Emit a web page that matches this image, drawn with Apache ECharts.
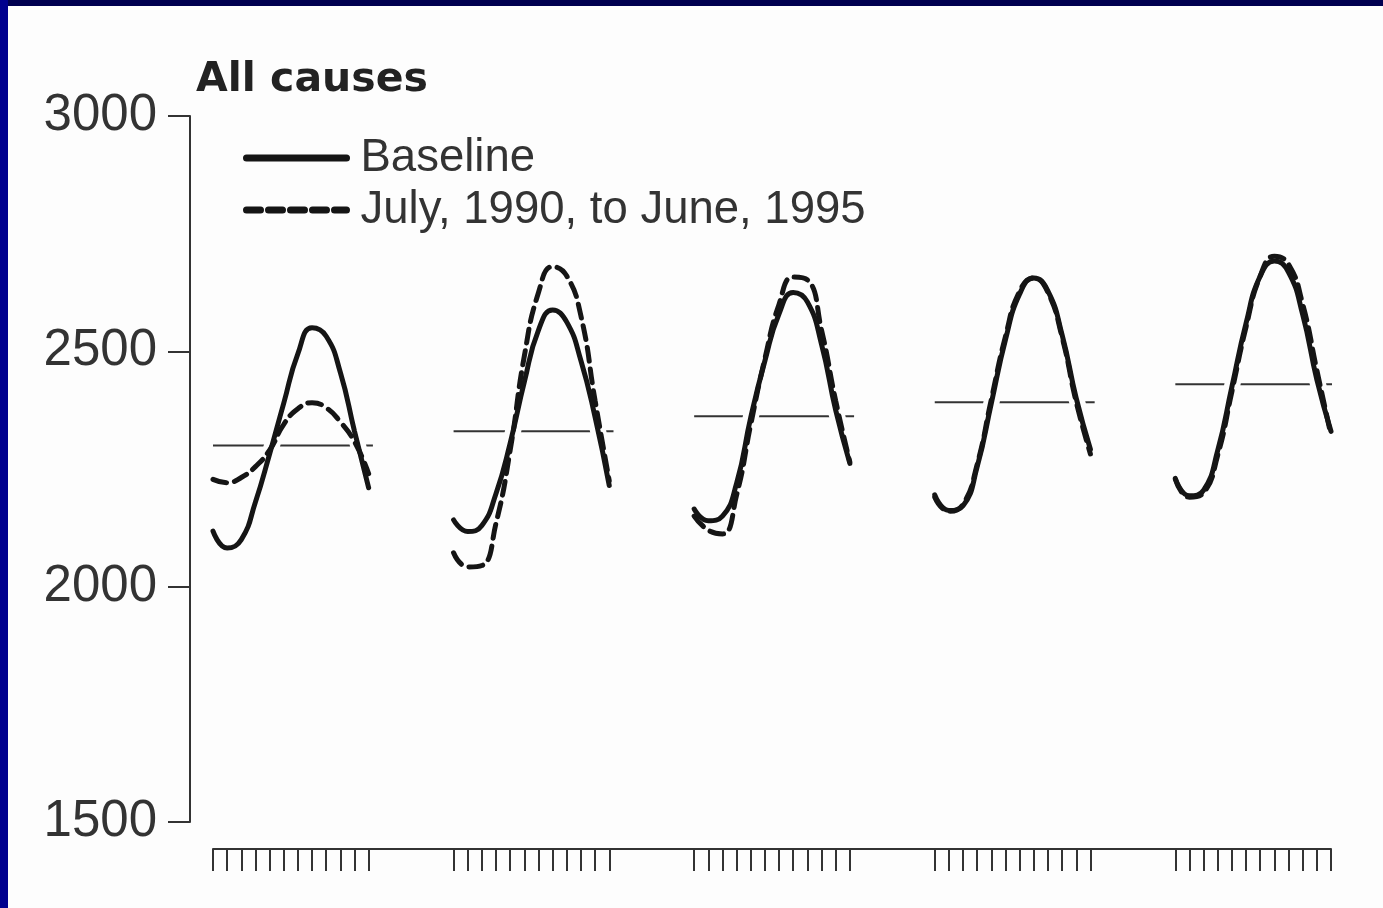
<!DOCTYPE html>
<html>
<head>
<meta charset="utf-8">
<title>All causes</title>
<script src="https://cdn.jsdelivr.net/npm/echarts@6/dist/echarts.min.js"></script>
<style>
  html, body { margin: 0; padding: 0; background: #fdfdfd; }
  #chart { width: 1383px; height: 908px; }
  .band-top { position: absolute; left: 0; top: 0; width: 1383px; height: 6px; background: #000050; }
  .band-left { position: absolute; left: 0; top: 0; width: 8px; height: 908px; background: #00008e; }
</style>
</head>
<body>
<div id="chart"></div>
<div class="band-top"></div>
<div class="band-left"></div>
<script>
// monthly deaths, July..June, one array per year
const baselineY1 = [2118, 2082, 2100, 2180, 2282, 2390, 2495, 2550, 2532, 2455, 2330, 2210]
const baselineY2 = [2142, 2117, 2130, 2198, 2305, 2435, 2545, 2588, 2562, 2480, 2360, 2215]
const baselineY3 = [2165, 2140, 2150, 2220, 2360, 2480, 2580, 2625, 2605, 2515, 2375, 2262]
const baselineY4 = [2195, 2162, 2172, 2255, 2390, 2525, 2622, 2656, 2628, 2535, 2400, 2292]
const baselineY5 = [2230, 2193, 2205, 2290, 2425, 2560, 2660, 2692, 2668, 2578, 2440, 2330]

const observedY1 = [2228, 2221, 2232, 2255, 2290, 2345, 2378, 2391, 2380, 2350, 2308, 2240]
const observedY2 = [2072, 2042, 2045, 2135, 2290, 2490, 2625, 2680, 2660, 2575, 2395, 2225]
const observedY3 = [2150, 2120, 2112, 2195, 2345, 2485, 2600, 2658, 2652, 2545, 2395, 2265]
const observedY4 = [2190, 2160, 2175, 2260, 2398, 2532, 2628, 2656, 2625, 2530, 2392, 2282]
const observedY5 = [2228, 2190, 2200, 2280, 2415, 2552, 2660, 2702, 2685, 2600, 2460, 2322]

// yearly mean of the baseline
const yearMeans = [2300, 2330, 2362, 2392, 2430]

const yTicks = [1500, 2000, 2500, 3000]
const baselineName = 'Baseline'
const observedName = 'July, 1990, to June, 1995'

const baselineYears = [baselineY1, baselineY2, baselineY3, baselineY4, baselineY5]
const observedYears = [observedY1, observedY2, observedY3, observedY4, observedY5]

// each year takes 12 month slots plus a gap of 5
const slotsPerYear = 17
const monthX = (year, month) => year * slotsPerYear + month

const tickValues = []
baselineYears.forEach((_, g) => {
  for (let m = 0; m < 12; m++) tickValues.push(monthX(g, m))
})

const ink = '#151515'
const series = []

baselineYears.forEach((base, g) => {
  const baseData = base.map((v, m) => [monthX(g, m), v])
  const obsData = observedYears[g].map((v, m) => [monthX(g, m), v])

  // thin mean line behind the curves
  series.push({
    name: 'mean',
    type: 'line',
    silent: true,
    symbol: 'none',
    z: 1,
    data: [[monthX(g, 0), yearMeans[g]], [monthX(g, 11.3), yearMeans[g]]],
    lineStyle: { color: '#333', width: 2 }
  })
  // white halo so the mean line breaks where the curve crosses it
  series.push({
    name: 'halo',
    type: 'line',
    silent: true,
    symbol: 'none',
    smooth: 0.5,
    z: 2,
    data: baseData,
    lineStyle: { color: '#fdfdfd', width: 16 }
  })
  series.push({
    name: observedName,
    type: 'line',
    symbol: 'none',
    smooth: 0.5,
    z: 3,
    data: obsData,
    itemStyle: { color: ink },
    lineStyle: { color: ink, width: 5, type: [14, 8], cap: 'round' }
  })
  series.push({
    name: baselineName,
    type: 'line',
    symbol: 'none',
    smooth: 0.5,
    z: 4,
    data: baseData,
    itemStyle: { color: ink },
    lineStyle: { color: ink, width: 5, cap: 'round' }
  })
})

const chart = echarts.init(document.getElementById('chart'), null, { renderer: 'canvas' })

chart.setOption({
  animation: false,
  backgroundColor: '#fdfdfd',
  title: {
    text: 'All causes',
    left: 196,
    top: 58,
    padding: 0,
    textStyle: {
      fontFamily: 'DejaVu Sans',
      fontWeight: 'bold',
      fontSize: 41,
      lineHeight: 44,
      color: '#222'
    }
  },
  legend: {
    data: [baselineName, observedName],
    orient: 'vertical',
    left: 243,
    top: 135,
    padding: 0,
    itemWidth: 100,
    itemHeight: 14,
    itemGap: 6,
    selectedMode: false,
    lineStyle: { width: 7 },
    itemStyle: { color: 'rgba(0,0,0,0)', borderWidth: 0, opacity: 0 },
    textStyle: {
      fontFamily: 'Liberation Sans',
      fontSize: 45.5,
      lineHeight: 44,
      color: '#333',
      padding: [0, 0, 0, 9]
    }
  },
  grid: {
    left: 213,
    right: 52,
    top: 116,
    bottom: 86,
    containLabel: false
  },
  xAxis: {
    type: 'value',
    min: 0,
    max: monthX(4, 11),
    offset: 27,
    axisLine: { show: true, onZero: false, lineStyle: { color: '#333', width: 2 } },
    axisTick: {
      show: true,
      customValues: tickValues,
      length: 22,
      lineStyle: { color: '#333', width: 2 }
    },
    axisLabel: { show: false },
    splitLine: { show: false }
  },
  yAxis: {
    type: 'value',
    min: yTicks[0],
    max: yTicks[yTicks.length - 1],
    interval: 500,
    offset: 23,
    axisLine: { show: true, onZero: false, lineStyle: { color: '#333', width: 2 } },
    axisTick: { show: true, length: 22, lineStyle: { color: '#333', width: 2 } },
    axisLabel: {
      margin: 33,
      fontFamily: 'Liberation Sans',
      fontSize: 51,
      color: '#333',
      formatter: (v) => String(v)
    },
    splitLine: { show: false }
  },
  series: series
})
</script>
</body>
</html>
